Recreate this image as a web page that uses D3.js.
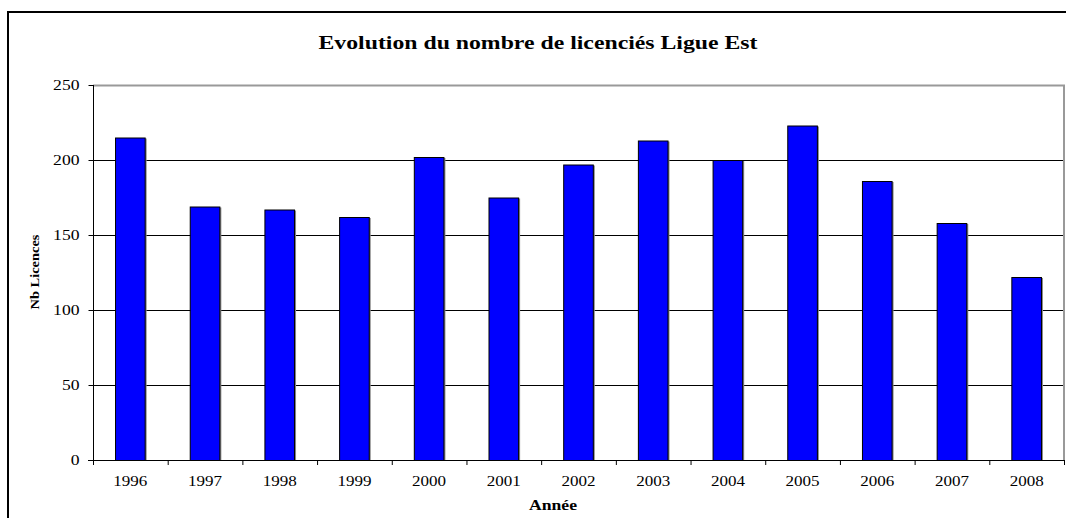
<!DOCTYPE html>
<html>
<head>
<meta charset="utf-8">
<script src="https://cdn.jsdelivr.net/npm/d3@7"></script>
<style>
  html, body { margin: 0; padding: 0; background: #fff; }
  svg { display: block; }
  text { font-family: "Liberation Serif", "Times New Roman", Tinos, Times, serif; fill: #000; }
</style>
</head>
<body>
<svg id="chart" width="1066" height="518"></svg>
<script>
const categories = ["1996","1997","1998","1999","2000","2001","2002","2003","2004","2005","2006","2007","2008"];
const licences = [215, 169, 167, 162, 202, 175, 197, 213, 200, 223, 186, 158, 122];
const yTicks = [0, 50, 100, 150, 200, 250];
const titleText = "Evolution du nombre de licenciés Ligue Est";
const xTitle = "Année";
const yTitle = "Nb Licences";

const m = { left: 93, right: 1064, top: 85, bottom: 460 };
const svg = d3.select("#chart");
const FONT = '"Liberation Serif", "Times New Roman", Tinos, Times, serif';

// outer frame
svg.append("rect").attr("x", 8).attr("y", 12).attr("width", 1080).attr("height", 530)
  .attr("fill", "#fff").attr("stroke", "#000").attr("stroke-width", 2);

const x = d3.scaleBand().domain(categories).range([m.left, m.right]).paddingInner(0.59).paddingOuter(0.295);
const xb = d3.scaleBand().domain(categories).range([m.left, m.right]);
const y = d3.scaleLinear().domain([0, 250]).range([m.bottom, m.top]);

// gridlines
svg.append("g").selectAll("line").data(yTicks.filter(d => d > 0 && d < 250)).join("line")
  .attr("x1", m.left).attr("x2", m.right)
  .attr("y1", d => y(d) + 0.5).attr("y2", d => y(d) + 0.5)
  .attr("stroke", "#000").attr("stroke-width", 1);

// plot border top/right (gray)
svg.append("path")
  .attr("d", `M${m.left},${y(250)+0.5}H${m.right}V${m.bottom}`)
  .attr("fill", "none").attr("stroke", "#999").attr("stroke-width", 2);

// bar shadows
svg.append("g").selectAll("rect").data(licences).join("rect")
  .attr("x", (d, i) => x(categories[i]) + 1)
  .attr("y", d => y(d) + 1)
  .attr("width", x.bandwidth())
  .attr("height", d => m.bottom - y(d))
  .attr("fill", "#888");

// bars
svg.append("g").selectAll("rect").data(licences).join("rect")
  .attr("x", (d, i) => x(categories[i]) + 0.5)
  .attr("y", d => y(d) + 0.5)
  .attr("width", x.bandwidth() - 1)
  .attr("height", d => m.bottom - y(d))
  .attr("fill", "#0000ff").attr("stroke", "#000").attr("stroke-width", 1);

// x axis
const xAxis = d3.axisBottom(xb).tickSize(0).tickPadding(15);
const gx = svg.append("g").attr("transform", `translate(0,${m.bottom})`).call(xAxis);
gx.select(".domain").remove();
gx.append("line").attr("x1", m.left - 5).attr("x2", m.right).attr("y1", 0.5).attr("y2", 0.5)
  .attr("stroke", "#000");
gx.selectAll(".tickmark").data(d3.range(categories.length + 1)).join("line")
  .attr("x1", i => m.left + i * xb.step() + 0.5)
  .attr("x2", i => m.left + i * xb.step() + 0.5)
  .attr("y1", 0).attr("y2", 5).attr("stroke", "#000");
gx.selectAll(".tick text").style("font-family", FONT).style("font-size", "15px")
  .attr("textLength", 34).attr("lengthAdjust", "spacingAndGlyphs");

// y axis
const yAxis = d3.axisLeft(y).tickValues(yTicks).tickSize(5).tickPadding(9);
const gy = svg.append("g").attr("transform", `translate(${m.left + 0.5},0)`).call(yAxis);
gy.select(".domain").attr("d", `M0,${m.top}V${m.bottom}`).attr("stroke", "#000");
gy.selectAll(".tick text").style("font-family", FONT).style("font-size", "14px")
  .attr("textLength", d => String(d).length * 8.8).attr("lengthAdjust", "spacingAndGlyphs");

// title
svg.append("text").attr("x", 538).attr("y", 49).attr("text-anchor", "middle")
  .style("font-family", FONT).style("font-size", "18px").style("font-weight", "bold")
  .attr("textLength", 439).attr("lengthAdjust", "spacingAndGlyphs").text(titleText);

// x title
svg.append("text").attr("x", 553).attr("y", 510).attr("text-anchor", "middle")
  .style("font-family", FONT).style("font-size", "14px").style("font-weight", "bold")
  .attr("textLength", 48).attr("lengthAdjust", "spacingAndGlyphs").text(xTitle);

// y title
svg.append("text").attr("transform", `translate(39,272) rotate(-90)`).attr("text-anchor", "middle")
  .style("font-family", FONT).style("font-size", "13px").style("font-weight", "bold")
  .attr("textLength", 75).attr("lengthAdjust", "spacingAndGlyphs").text(yTitle);
</script>
</body>
</html>
